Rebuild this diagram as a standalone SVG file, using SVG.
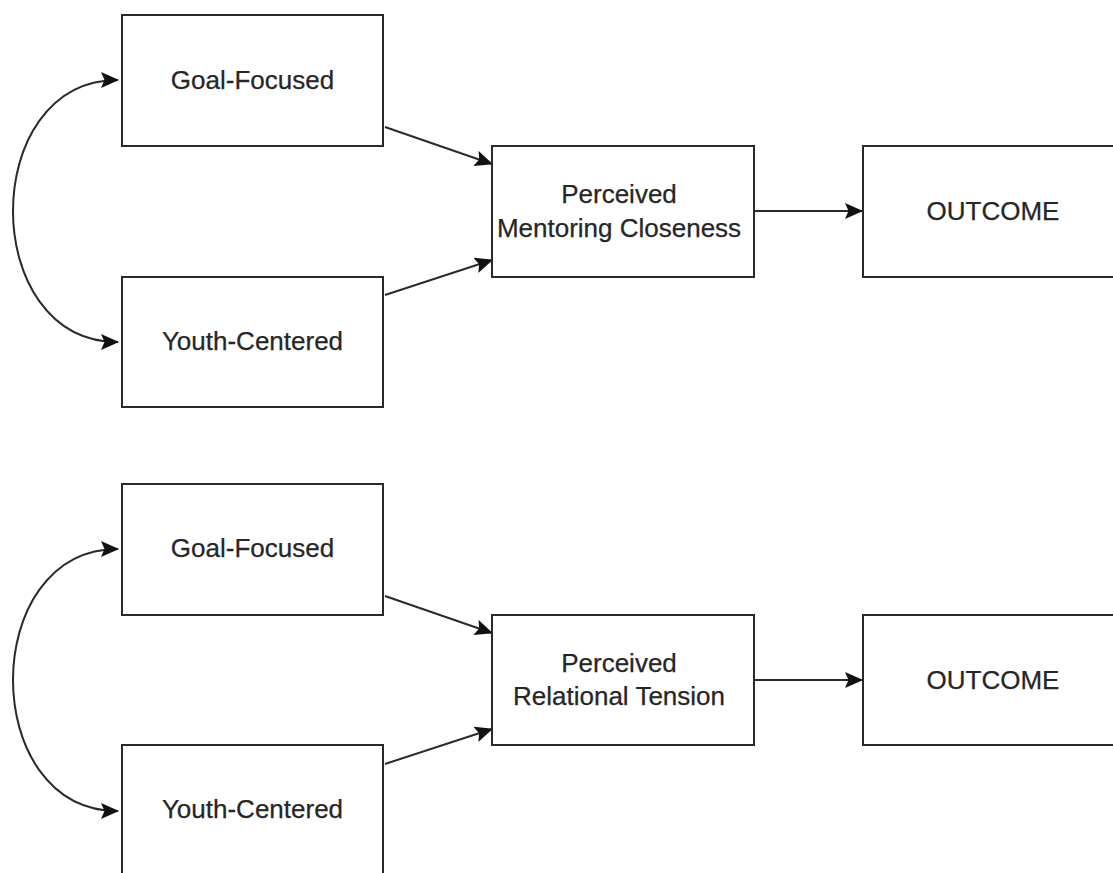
<svg xmlns="http://www.w3.org/2000/svg" width="1113" height="873" viewBox="0 0 1113 873">
<style>
.box{fill:#fff;stroke:#2a2a2a;stroke-width:2}
.t{font-family:"Liberation Sans",Arial,sans-serif;font-size:26px;fill:#262626;stroke:#262626;stroke-width:0.25;text-anchor:middle}
.c{fill:none;stroke:#2a2a2a;stroke-width:2}
</style>
<defs>
<marker id="ah" viewBox="0 0 18 16" refX="17" refY="8" markerWidth="18" markerHeight="16" markerUnits="userSpaceOnUse" orient="auto-start-reverse">
<path d="M0,0 L18,8 L0,16 L3.5,8 Z" fill="#111"/>
</marker>
</defs>
<rect width="1113" height="873" fill="#fff"/>
<g id="connectors">
<path class="c" d="M118,80 C-22,80 -22,342 118,342" marker-start="url(#ah)" marker-end="url(#ah)"/>
<line class="c" x1="385" y1="127" x2="492" y2="164" marker-end="url(#ah)"/>
<line class="c" x1="385" y1="295" x2="492" y2="260" marker-end="url(#ah)"/>
<line class="c" x1="754" y1="211" x2="862" y2="211" marker-end="url(#ah)"/>
<path class="c" d="M118,549 C-22,549 -22,811 118,811" marker-start="url(#ah)" marker-end="url(#ah)"/>
<line class="c" x1="385" y1="596" x2="492" y2="633" marker-end="url(#ah)"/>
<line class="c" x1="385" y1="764" x2="492" y2="729" marker-end="url(#ah)"/>
<line class="c" x1="754" y1="680" x2="862" y2="680" marker-end="url(#ah)"/>
</g>
<g id="goal1"><rect class="box" x="122" y="15" width="261" height="131"/><text class="t" x="252.5" y="89">Goal-Focused</text></g>
<g id="youth1"><rect class="box" x="122" y="277" width="261" height="130"/><text class="t" x="252.5" y="350">Youth-Centered</text></g>
<g id="closeness"><rect class="box" x="492" y="146" width="262" height="131"/><text class="t" x="619" y="203">Perceived</text><text class="t" x="619" y="237">Mentoring Closeness</text></g>
<g id="outcome1"><rect class="box" x="863" y="146" width="261" height="131"/><text class="t" x="993" y="220">OUTCOME</text></g>
<g id="goal2"><rect class="box" x="122" y="484" width="261" height="131"/><text class="t" x="252.5" y="557">Goal-Focused</text></g>
<g id="youth2"><rect class="box" x="122" y="745" width="261" height="140"/><text class="t" x="252.5" y="818">Youth-Centered</text></g>
<g id="tension"><rect class="box" x="492" y="615" width="262" height="130"/><text class="t" x="619" y="672">Perceived</text><text class="t" x="619" y="705">Relational Tension</text></g>
<g id="outcome2"><rect class="box" x="863" y="615" width="261" height="130"/><text class="t" x="993" y="689">OUTCOME</text></g>
</svg>
